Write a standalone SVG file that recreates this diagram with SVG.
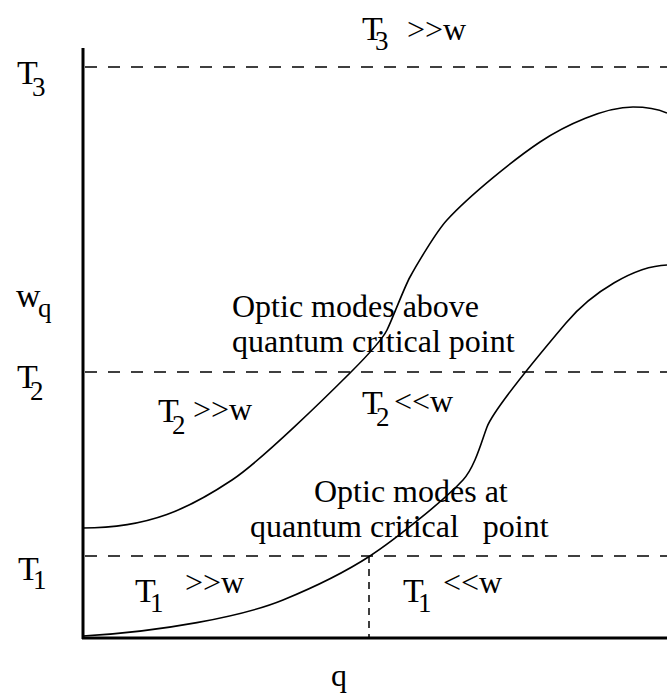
<svg xmlns="http://www.w3.org/2000/svg" width="667" height="693" viewBox="0 0 667 693">
<style>
text{font-family:"Liberation Serif","Times New Roman",serif;fill:#000}
.m{font-size:32px}
.b{font-size:34px}
.s{font-size:27px}
.axis{stroke:#000;stroke-width:3;fill:none}
.dash{stroke:#000;stroke-width:1.5;stroke-dasharray:12 11;fill:none}
.vdash{stroke:#000;stroke-width:1.5;stroke-dasharray:7 6;fill:none}
.curve{stroke:#000;stroke-width:1.6;fill:none}
</style>
<rect width="667" height="693" fill="#fff"/>
<g id="guides">
<line class="dash" x1="85" y1="67" x2="667" y2="67"/>
<line class="dash" x1="85" y1="372" x2="667" y2="372"/>
<line class="dash" x1="85" y1="556" x2="667" y2="556"/>
<line class="vdash" x1="369" y1="556" x2="369" y2="637"/>
</g>
<g id="axes">
<line class="axis" x1="83" y1="48" x2="83" y2="639"/>
<line class="axis" x1="82" y1="638" x2="667" y2="638"/>
</g>
<g id="curves">
<path id="upper-curve" class="curve" d="M83,528 C150,528 190,508 232,480 C262,460 330,393 351,372 C363,360 382,340 387,330 C392,320 404,288 410,277 C416,266 436,232 447,220 C470,195 515,158.7 540,142 C565,125.3 605,107 633,107 C650,107 660,110 667,113"/>
<path id="lower-curve" class="curve" d="M83,636 C160,632 243,616.4 283,600 C313,587.7 345,572.2 370,556 C395,539.8 445,499.5 463,480 C475,467 482,440 487,427 C494,409 540,353.7 566,323 C592,292 635,266 667,265"/>
</g>
<g id="axis-labels">
<text class="b" x="17" y="84">T</text><text class="s" x="32" y="96">3</text>
<text class="b" x="16" y="307">w</text><text class="s" x="38" y="317">q</text>
<text class="b" x="17" y="388">T</text><text class="s" x="30" y="400">2</text>
<text class="b" x="18" y="580">T</text><text class="s" x="33" y="589">1</text>
<text class="m" x="331" y="686">q</text>
</g>
<g id="region-labels">
<g id="t3-high"><text class="b" x="362" y="40">T</text><text class="s" x="375" y="50">3</text><text class="m" x="407" y="40">&gt;&gt;w</text></g>
<g id="optic-above"><text class="m" x="232" y="317">Optic modes above</text><text class="m" x="232" y="352">quantum critical point</text></g>
<g id="t2-high"><text class="b" x="158" y="422">T</text><text class="s" x="172" y="434">2</text><text class="m" x="193" y="420">&gt;&gt;w</text></g>
<g id="t2-low"><text class="b" x="362" y="414">T</text><text class="s" x="376" y="426">2</text><text class="m" x="394" y="412">&lt;&lt;w</text></g>
<g id="optic-at"><text class="m" x="314" y="502">Optic modes at</text><text class="m" x="250" y="537" xml:space="preserve">quantum critical   point</text></g>
<g id="t1-high"><text class="b" x="135" y="602">T</text><text class="s" x="150" y="612">1</text><text class="m" x="185" y="593">&gt;&gt;w</text></g>
<g id="t1-low"><text class="b" x="403" y="602">T</text><text class="s" x="418" y="612">1</text><text class="m" x="443" y="593">&lt;&lt;w</text></g>
</g>
</svg>
